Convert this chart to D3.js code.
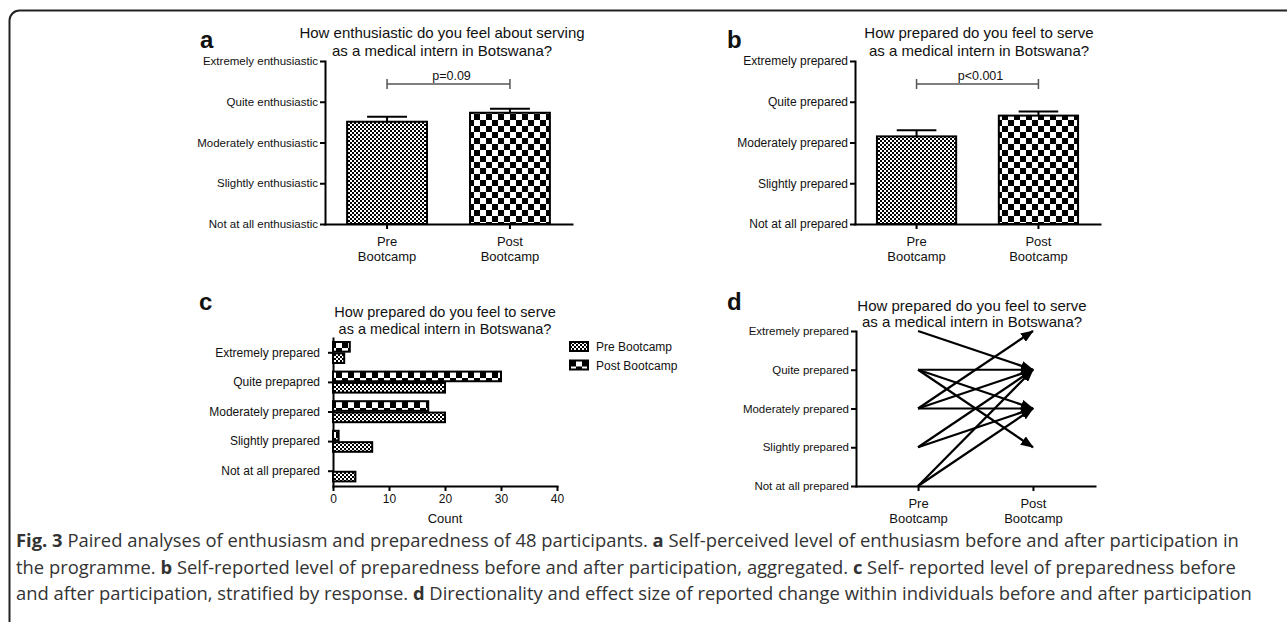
<!DOCTYPE html>
<html>
<head>
<meta charset="utf-8">
<script src="https://cdn.jsdelivr.net/npm/d3@7"></script>
<style>
  body { margin: 0; background: #fff; }
  svg text { font-family: "Liberation Sans", Arial, sans-serif; fill: #111; }
  .axis path, .axis line { stroke: #000; stroke-width: 2; }
  .axis path { stroke-linecap: square; }
  .caption { font-family: "Open Sans", sans-serif; font-size: 18.4px; fill: #333; }
</style>
</head>
<body>
<script>

// ---- data ----
var groups = ["Pre", "Post"];
var groupSub = "Bootcamp";

var enthusiasmLevels = ["Not at all enthusiastic", "Slightly enthusiastic", "Moderately enthusiastic",
  "Quite enthusiastic", "Extremely enthusiastic"];
var preparedLevels = ["Not at all prepared", "Slightly prepared", "Moderately prepared",
  "Quite prepared", "Extremely prepared"];
// panel c lists the answers top to bottom (typo kept from the original)
var responseLevels = ["Extremely prepared", "Quite prepapred", "Moderately prepared",
  "Slightly prepared", "Not at all prepared"];

var enthusiasmMean = [2.51, 2.73];
var enthusiasmSem = [0.12, 0.10];
var preparedMean = [2.15, 2.66];
var preparedSem = [0.15, 0.10];
var pValues = ["p=0.09", "p<0.001"];

var preCounts = [2, 20, 20, 7, 4];
var postCounts = [3, 30, 17, 1, 0];
var countTicks = [0, 10, 20, 30, 40];

// panel d: level before -> level after (0 = not at all, 4 = extremely)
var pairFrom = [4, 3, 3, 3, 2, 2, 2, 1, 1, 0, 0];
var pairTo   = [3, 3, 2, 1, 4, 3, 2, 3, 2, 3, 2];

var titleEnthusiasm = ["How enthusiastic do you feel about serving", "as a medical intern in Botswana?"];
var titlePrepared = ["How prepared do you feel to serve", "as a medical intern in Botswana?"];

var captionLines = [
  [["Fig. 3", true], [" Paired analyses of enthusiasm and preparedness of 48 participants. ", false], ["a", true],
   [" Self-perceived level of enthusiasm before and after participation in", false]],
  [["the programme. ", false], ["b", true], [" Self-reported level of preparedness before and after participation, aggregated. ", false],
   ["c", true], [" Self- reported level of preparedness before", false]],
  [["and after participation, stratified by response. ", false], ["d", true],
   [" Directionality and effect size of reported change within individuals before and after participation", false]]
];

var width = 1287, height = 622;

var svg = d3.select("body")
  .append("svg")
    .attr("width", width)
    .attr("height", height);

// frame round the figure
svg.append("rect")
  .attr("x", 9.5).attr("y", 10.5)
  .attr("width", 1300).attr("height", 620)
  .attr("rx", 10)
  .attr("fill", "none")
  .attr("stroke", "#222")
  .attr("stroke-width", 2);

// fill patterns
var defs = svg.append("defs");
var fine = defs.append("pattern").attr("id", "fine")
  .attr("patternUnits", "userSpaceOnUse").attr("width", 4).attr("height", 4);
fine.append("rect").attr("width", 4).attr("height", 4).attr("fill", "#fff");
fine.append("rect").attr("width", 2).attr("height", 2).attr("fill", "#000");
fine.append("rect").attr("x", 2).attr("y", 2).attr("width", 2).attr("height", 2).attr("fill", "#000");

var coarse = defs.append("pattern").attr("id", "coarse")
  .attr("patternUnits", "userSpaceOnUse").attr("width", 12).attr("height", 12);
coarse.append("rect").attr("width", 12).attr("height", 12).attr("fill", "#fff");
coarse.append("rect").attr("width", 6).attr("height", 6).attr("fill", "#000");
coarse.append("rect").attr("x", 6).attr("y", 6).attr("width", 6).attr("height", 6).attr("fill", "#000");

defs.append("marker")
  .attr("id", "arrow")
  .attr("markerUnits", "userSpaceOnUse")
  .attr("viewBox", "0 0 13 10")
  .attr("markerWidth", 13).attr("markerHeight", 10)
  .attr("refX", 12).attr("refY", 5)
  .attr("orient", "auto")
  .append("path")
    .attr("d", "M0,0L13,5L0,10Z")
    .attr("fill", "#000");

var fills = ["url(#fine)", "url(#coarse)"];

function panelLetter(letter, x, y) {
  svg.append("text")
    .attr("x", x).attr("y", y)
    .style("font-size", "24px")
    .style("font-weight", "bold")
    .text(letter);
}

function panelTitle(lines, cx, y0, y1, size) {
  svg.append("text")
    .attr("x", cx).attr("y", y0)
    .attr("text-anchor", "middle")
    .style("font-size", size + "px")
    .text(lines[0]);
  svg.append("text")
    .attr("x", cx).attr("y", y1)
    .attr("text-anchor", "middle")
    .style("font-size", size + "px")
    .text(lines[1]);
}

// two line x tick labels (Pre / Bootcamp)
function groupLabels(axisG) {
  axisG.selectAll(".tick text").each(function(d) {
    var t = d3.select(this);
    t.text(null).attr("y", null).attr("dy", null);
    t.append("tspan").attr("x", 0).attr("y", 22).text(d);
    t.append("tspan").attr("x", 0).attr("y", 37).text(groupSub);
  });
  axisG.selectAll(".tick text").style("font-size", "13px");
}

// ---- panels a and b: mean bars ----
function barPanel(p) {
  var y = d3.scaleLinear()
    .domain([0, 4])
    .range([224, 61]);

  var x = d3.scaleBand()
    .domain(groups)
    .range([p.left, p.right])
    .paddingInner(0.35)
    .paddingOuter(0.18);

  var yAxis = svg.append("g")
    .attr("class", "axis")
    .attr("transform", "translate(" + p.left + ",0)")
    .call(d3.axisLeft(y).tickValues([0, 1, 2, 3, 4])
      .tickFormat(function(d) { return p.levels[d]; })
      .tickSize(5).tickSizeOuter(0).tickPadding(2));
  yAxis.selectAll("text").style("font-size", p.tickSize + "px").attr("fill", "#111");

  var xAxis = svg.append("g")
    .attr("class", "axis")
    .attr("transform", "translate(0," + y(0) + ")")
    .call(d3.axisBottom(x).tickSize(5).tickSizeOuter(0));
  groupLabels(xAxis);

  // bars
  svg.append("g")
    .selectAll("rect")
    .data(groups)
    .enter().append("rect")
      .attr("x", function(d) { return x(d); })
      .attr("y", function(d, i) { return y(p.means[i]); })
      .attr("width", x.bandwidth())
      .attr("height", function(d, i) { return y(0) - y(p.means[i]); })
      .attr("fill", function(d, i) { return fills[i]; })
      .attr("stroke", "#000")
      .attr("stroke-width", 2);

  // error bars (upper half only, as in the figure)
  var err = svg.append("g").attr("stroke", "#000").attr("stroke-width", 2);
  groups.forEach(function(g, i) {
    var cx = x(g) + x.bandwidth() / 2;
    err.append("line")
      .attr("x1", cx).attr("x2", cx)
      .attr("y1", y(p.means[i])).attr("y2", y(p.means[i] + p.sems[i]));
    err.append("line")
      .attr("x1", cx - x.bandwidth() / 4).attr("x2", cx + x.bandwidth() / 4)
      .attr("y1", y(p.means[i] + p.sems[i])).attr("y2", y(p.means[i] + p.sems[i]));
  });

  // significance bracket
  var bx0 = x(groups[0]) + x.bandwidth() / 2,
      bx1 = x(groups[1]) + x.bandwidth() / 2,
      by = 84;
  var br = svg.append("g").attr("stroke", "#555").attr("stroke-width", 1.5).attr("fill", "none");
  br.append("path")
    .attr("d", "M" + bx0 + "," + (by - 5) + "V" + (by + 5) + "M" + bx0 + "," + by + "H" + bx1 +
      "M" + bx1 + "," + (by - 5) + "V" + (by + 5));
  svg.append("text")
    .attr("x", (bx0 + bx1) / 2 + 3).attr("y", by - 4)
    .attr("text-anchor", "middle")
    .style("font-size", "12.5px")
    .text(p.pText);

  panelLetter(p.letter, p.letterX, 48);
  panelTitle(p.title, p.titleX, 38, 56, 15);
}

barPanel({ left: 325, right: 572, levels: enthusiasmLevels, means: enthusiasmMean, sems: enthusiasmSem,
  pText: pValues[0], letter: "a", letterX: 200, title: titleEnthusiasm, titleX: 442, tickSize: 11.5 });
barPanel({ left: 855, right: 1100, levels: preparedLevels, means: preparedMean, sems: preparedSem,
  pText: pValues[1], letter: "b", letterX: 727, title: titlePrepared, titleX: 979, tickSize: 12 });

// ---- panel c: counts by answer ----
var xc = d3.scaleLinear()
  .domain([0, 40])
  .range([333, 557]);

var yc = d3.scaleBand()
  .domain(responseLevels)
  .range([338, 486]);

var ySub = d3.scaleBand()
  .domain(["Post", "Pre"])
  .range([4, 25])
  .paddingInner(0.15);

var cAxisY = svg.append("g")
  .attr("class", "axis")
  .attr("transform", "translate(" + xc(0) + ",0)")
  .call(d3.axisLeft(yc).tickSize(5).tickSizeOuter(0).tickPadding(8));
cAxisY.selectAll("text").style("font-size", "12px");

var cAxisX = svg.append("g")
  .attr("class", "axis")
  .attr("transform", "translate(0," + 486 + ")")
  .call(d3.axisBottom(xc).tickValues(countTicks).tickSize(5).tickSizeOuter(0));
cAxisX.selectAll("text").style("font-size", "12px");

svg.append("text")
  .attr("x", (xc(0) + xc(40)) / 2).attr("y", 523)
  .attr("text-anchor", "middle")
  .style("font-size", "13px")
  .text("Count");

var series = [
  { key: "Pre", label: "Pre Bootcamp", values: preCounts, fill: fills[0] },
  { key: "Post", label: "Post Bootcamp", values: postCounts, fill: fills[1] }
];

series.forEach(function(s) {
  svg.append("g")
    .selectAll("rect")
    .data(responseLevels.filter(function(d, i) { return s.values[i] > 0; }))
    .enter().append("rect")
      .attr("x", xc(0))
      .attr("y", function(d) { return yc(d) + ySub(s.key); })
      .attr("width", function(d) { return xc(s.values[responseLevels.indexOf(d)]) - xc(0); })
      .attr("height", ySub.bandwidth())
      .attr("fill", s.fill)
      .attr("stroke", "#000")
      .attr("stroke-width", 2);
});

// legend
var legend = svg.append("g")
  .selectAll("g")
  .data(series)
  .enter().append("g")
    .attr("transform", function(d, i) { return "translate(570," + (342 + i * 18.5) + ")"; });
legend.append("rect")
  .attr("width", 18).attr("height", 9)
  .attr("fill", function(d) { return d.fill; })
  .attr("stroke", "#000")
  .attr("stroke-width", 2);
legend.append("text")
  .attr("x", 26).attr("y", 9)
  .style("font-size", "12px")
  .text(function(d) { return d.label; });

panelLetter("c", 199, 310);
panelTitle(titlePrepared, 445, 317, 334, 14.5);

// ---- panel d: individual changes ----
var yd = d3.scaleLinear()
  .domain([0, 4])
  .range([486, 331]);

var xd = d3.scalePoint()
  .domain(groups)
  .range([856, 1095])
  .padding(0.54);

var dAxisY = svg.append("g")
  .attr("class", "axis")
  .attr("transform", "translate(856,0)")
  .call(d3.axisLeft(yd).tickValues([0, 1, 2, 3, 4])
    .tickFormat(function(d) { return preparedLevels[d]; })
    .tickSize(5).tickSizeOuter(0).tickPadding(2));
dAxisY.selectAll("text").style("font-size", "11.5px");

var dAxisX = svg.append("g")
  .attr("class", "axis")
  .attr("transform", "translate(0," + yd(0) + ")")
  .call(d3.axisBottom(xd).tickSize(5).tickSizeOuter(0));
groupLabels(dAxisX);

svg.append("g")
  .selectAll("line")
  .data(pairFrom)
  .enter().append("line")
    .attr("x1", xd("Pre"))
    .attr("y1", function(d) { return yd(d); })
    .attr("x2", xd("Post"))
    .attr("y2", function(d, i) { return yd(pairTo[i]); })
    .attr("stroke", "#000")
    .attr("stroke-width", 2.2)
    .attr("marker-end", "url(#arrow)");

panelLetter("d", 727, 310);
panelTitle(titlePrepared, 972, 311, 327, 15);

// ---- caption ----
captionLines.forEach(function(line, i) {
  var t = svg.append("text")
    .attr("class", "caption")
    .attr("x", 16)
    .attr("y", 547 + i * 26.5);
  line.forEach(function(seg) {
    t.append("tspan")
      .style("font-weight", seg[1] ? "bold" : "normal")
      .text(seg[0]);
  });
});

</script>
</body>
</html>
